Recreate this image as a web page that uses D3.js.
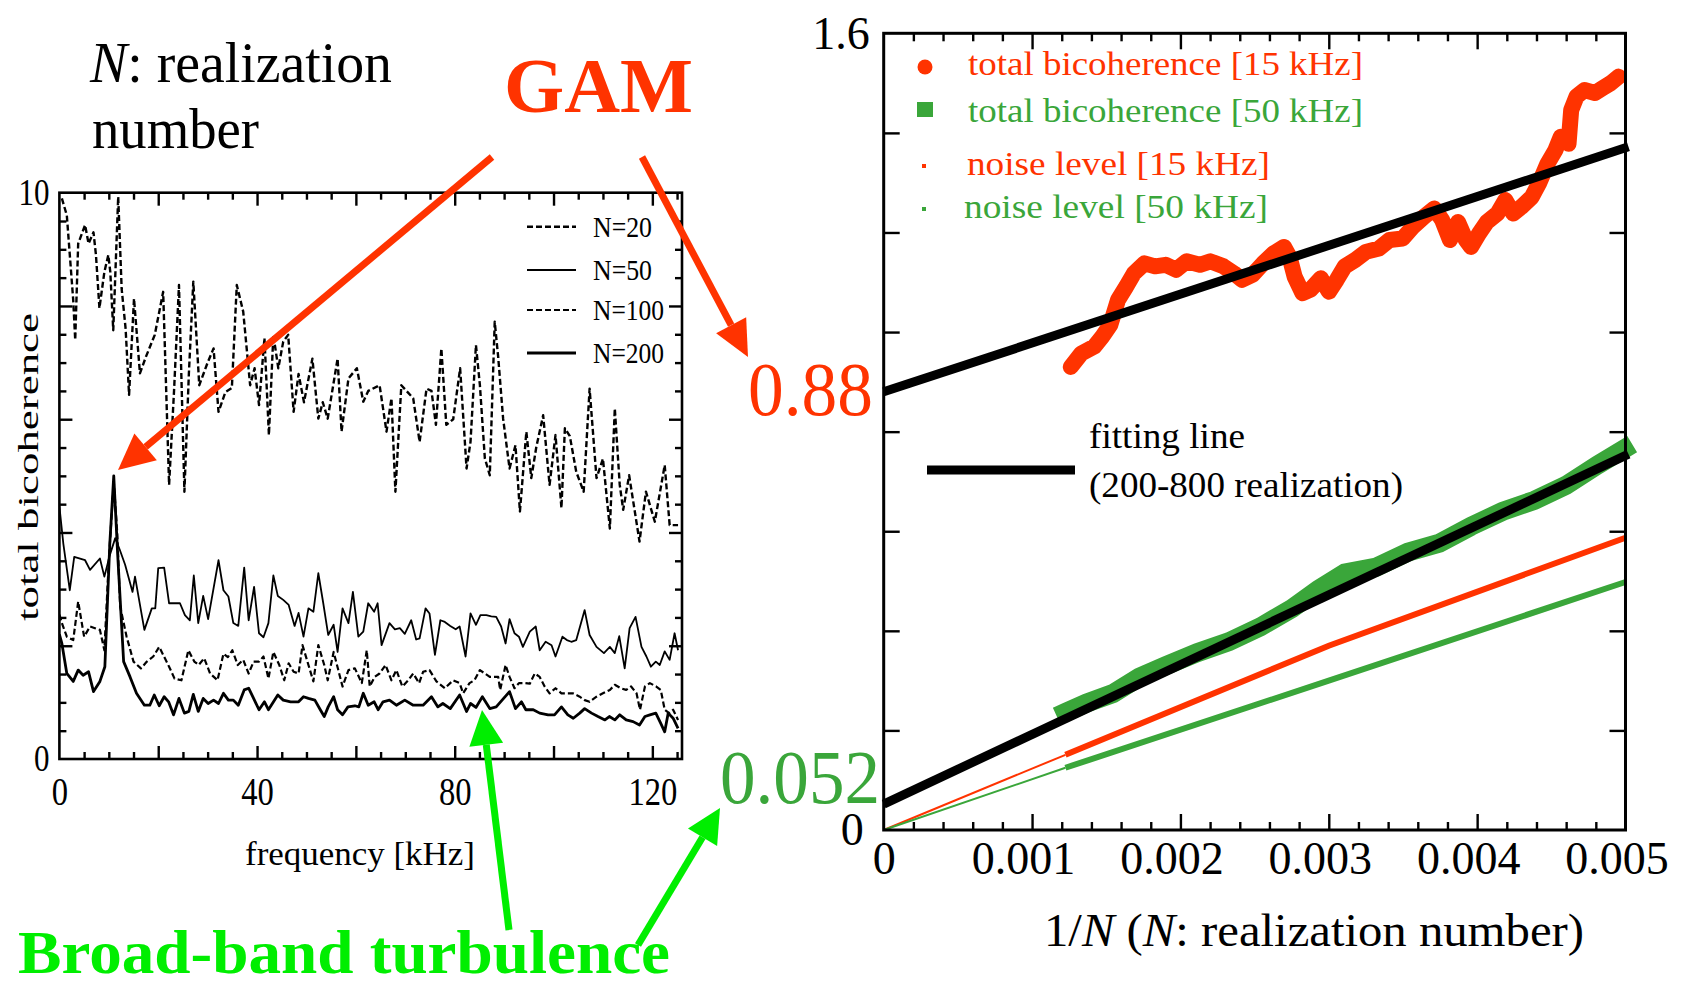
<!DOCTYPE html>
<html>
<head>
<meta charset="utf-8">
<script src="https://cdn.jsdelivr.net/npm/d3@7"></script>
<style>
  body { margin: 0; background: #fff; }
  svg { display: block; font-family: "Liberation Serif", "Times New Roman", serif; }
</style>
</head>
<body>
<div id="chart"></div>
<script>
// ********** BICOHERENCE FIGURE **********

// Left panel: total bicoherence vs frequency [kHz], one series per realization number N
const n20 = [[0.5,9.9],[1.5,9.6],[2.8,8.1],[3.2,7.4],[3.8,9.1],[5.2,9.43],[5.9,9.1],[6.9,9.3],[7.4,8.9],[8.1,7.96],[9.1,8.6],[9.9,8.9],[10.3,8.6],[10.9,7.57],[11.9,9.93],[12.6,8.3],[13.4,7.6],[14.1,6.43],[15.1,8.13],[16.3,6.81],[17.5,7.1],[19.3,7.49],[21,8.25],[22.2,4.84],[23.2,6.5],[24.2,8.37],[25.3,4.72],[26.2,6.8],[27.1,8.43],[28.3,6.6],[30,7.0],[31.2,7.25],[32.2,6.13],[33.6,6.48],[34.9,6.55],[35.9,8.37],[37.2,7.9],[38.6,6.6],[39.5,6.9],[40.4,6.25],[41.5,7.43],[42.4,5.72],[43.3,7.49],[44.3,6.9],[45.3,7.37],[46.3,7.49],[47.4,6.13],[48.4,6.8],[49.5,6.3],[51.2,7.07],[52.4,6.01],[53.3,6.3],[54.3,6.01],[56.3,7.07],[57.1,5.78],[58.5,6.72],[60.2,6.9],[61.5,6.31],[62.5,6.5],[64.8,6.6],[66.2,5.78],[67.2,6.37],[68,4.72],[69.2,6.6],[71.6,6.37],[72.9,5.6],[74.3,6.54],[75.3,6.5],[76.2,5.9],[77.3,7.25],[78.3,5.9],[79.7,6.0],[81.1,6.9],[82.4,5.13],[83.2,5.6],[84.3,7.31],[85.1,6.6],[86.1,5.31],[87.1,5.01],[88.1,7.72],[88.8,7.1],[89.8,6.01],[91.1,5.13],[92.3,5.54],[93.2,4.37],[94.5,5.78],[95.5,4.96],[96.5,5.5],[97.9,6.07],[99.2,4.84],[100.4,5.72],[101.6,4.43],[102.3,5.84],[103.3,5.7],[104.6,5.07],[106.1,4.72],[107.3,6.54],[108.7,4.96],[110,5.3],[111.4,4.07],[112.4,6.19],[113.4,4.84],[114.1,4.4],[115.3,5.01],[117.4,3.84],[118.7,4.72],[120.5,4.19],[122.5,5.19],[123.5,4.13],[125.2,4.13]];

const n50 = [[0,4.46],[0.8,3.8],[2.1,2.98],[3,3.57],[5.2,3.51],[6.2,3.34],[8.2,3.54],[9.1,3.22],[10.2,3.6],[11.3,3.9],[12.2,3.7],[13.3,3.43],[14.8,2.95],[15.3,3.22],[17.2,2.28],[18.7,2.66],[19.4,2.66],[20,3.37],[21.2,3.38],[22.2,2.75],[24.4,2.75],[25.4,2.54],[26.4,2.45],[27.2,3.24],[28.1,2.4],[29.1,2.88],[30.1,2.47],[32.2,3.51],[33.2,2.98],[34.2,2.87],[35.2,2.4],[36.2,2.35],[37.4,3.38],[38.3,2.45],[39.4,3.04],[40.4,2.22],[41.3,2.15],[42.3,2.4],[43.3,3.24],[44.2,2.88],[45.3,2.81],[46.4,2.72],[47.6,2.35],[48.4,2.58],[49.4,2.16],[50.4,2.66],[51.4,2.6],[52.4,3.28],[53.4,2.75],[54.4,2.19],[55.5,2.37],[56.3,1.89],[57.3,2.66],[58.5,2.4],[59.4,2.95],[60.5,2.16],[61.5,2.25],[62.5,2.75],[63.7,2.6],[64.4,2.75],[65.2,2.01],[66.8,2.4],[67.9,2.29],[68.9,2.31],[69.9,2.21],[71.2,2.45],[72.2,2.11],[72.9,2.13],[74.1,2.66],[74.9,2.57],[76,1.84],[77.1,2.45],[78,2.42],[79.1,2.35],[80.2,2.29],[81,2.34],[82.2,1.81],[83.2,2.57],[84.3,2.37],[85.2,2.54],[86.4,2.54],[87.4,2.52],[88.4,2.51],[89.4,2.34],[90.3,2.04],[91.1,2.47],[92.1,2.22],[93,2.16],[93.8,1.98],[95.2,2.25],[96.4,2.34],[97.2,1.92],[98.4,2.07],[99.6,2.01],[100.4,1.81],[101.8,2.16],[102.7,2.1],[103.6,2.07],[104.6,2.1],[106.3,2.63],[107.3,2.19],[108.7,1.98],[110.2,1.87],[111.4,1.98],[112.4,1.87],[113.3,2.17],[114.4,1.6],[115.4,2.31],[116.6,2.51],[117.8,1.98],[118.8,1.81],[119.7,1.63],[120.7,1.72],[121.5,1.66],[122.5,1.9],[123.5,1.75],[124.5,2.22],[125.2,1.92]];

const n100 = [[0,2.55],[0.5,2.4],[1.5,2.16],[2.8,2.1],[3.8,2.78],[5,2.16],[6.2,2.34],[7.2,2.31],[8.2,2.28],[9.1,1.92],[10,3.5],[11,4.9],[11.7,4.0],[12.3,2.69],[13.6,2.16],[15,1.72],[16.5,1.6],[17.7,1.72],[19,1.81],[20.2,1.98],[21,1.84],[22.2,1.63],[23.3,1.42],[24.7,1.39],[26.1,1.92],[27.3,1.72],[28.2,1.66],[29.3,1.78],[30.5,1.51],[32,1.39],[33.2,1.86],[34.1,1.8],[35,1.92],[36.1,1.66],[37.2,1.75],[38.3,1.51],[39.3,1.72],[40.4,1.72],[41.3,1.81],[42.3,1.42],[43.3,1.89],[44.5,1.66],[45.5,1.39],[46.4,1.69],[47.4,1.54],[48.4,1.51],[49.2,2.01],[50.4,1.66],[51.4,1.37],[52.4,2.01],[53.6,1.66],[54.3,1.39],[55.5,1.89],[57.3,1.28],[58.5,1.57],[59.8,1.6],[61.2,1.34],[62.2,1.92],[62.8,1.28],[63.8,1.45],[64.8,1.51],[66,1.66],[67.2,1.39],[68.2,1.57],[69.4,1.28],[70.6,1.39],[71.6,1.51],[72.8,1.34],[73.6,1.54],[74.9,1.57],[76.3,1.37],[78,1.25],[79.7,1.39],[81,1.34],[81.7,1.16],[83,1.34],[84,1.39],[85.1,1.57],[86.1,1.51],[87.1,1.45],[88.8,1.45],[89.2,1.22],[90.3,1.66],[91.1,1.45],[92.1,1.25],[93,1.34],[94.2,1.34],[95.2,1.33],[96.2,1.51],[97.2,1.45],[98.2,1.28],[99.2,1.16],[100.4,1.25],[101.6,1.16],[102.7,1.16],[103.9,1.16],[105.3,1.1],[106.3,1.04],[107.3,1.01],[108.7,1.1],[110,1.16],[111.4,1.22],[112.4,1.31],[113.6,1.25],[114.7,1.22],[115.7,1.28],[116.8,1.16],[117.5,0.87],[118.5,1.28],[119.5,1.34],[120.8,1.28],[121.7,1.22],[122.5,0.87],[123.4,0.81],[124.2,0.87],[125.2,0.69]];

const n200 = [[0,2.2],[0.5,2.04],[1.5,1.51],[2.8,1.37],[3.8,1.57],[4.8,1.48],[5.9,1.54],[6.9,1.19],[8.2,1.37],[9.2,1.63],[10.2,3.8],[11,5.0],[11.8,3.6],[13,1.72],[14.3,1.45],[15.6,1.16],[17.2,0.95],[18.3,0.95],[19.2,1.13],[20.2,0.94],[21.2,1.1],[22.1,1.01],[23.1,0.78],[24.2,1.07],[25.3,0.81],[26.2,0.84],[27.1,1.14],[28.1,0.84],[29.1,1.07],[30.1,0.98],[31.2,1.04],[32.2,0.98],[33.2,1.16],[34.2,1.04],[35.2,1.04],[36.2,0.95],[37.4,1.22],[38.3,1.25],[39.3,1.07],[40.4,0.87],[41.5,1.01],[42.3,0.87],[44.2,1.13],[45.3,1.04],[46.8,1.01],[48.4,1.01],[49.4,1.1],[50.4,1.07],[51.7,1.04],[52.8,0.87],[53.6,0.75],[54.4,0.92],[55.5,1.1],[56.3,0.87],[57.3,0.78],[58.4,0.92],[59.8,0.94],[60.6,0.92],[61.5,1.16],[62.5,0.95],[63.7,1.01],[64.5,0.87],[65.5,1.01],[66.8,1.04],[68.2,0.95],[69.9,1.04],[71.6,0.95],[73.6,0.95],[75.3,1.1],[76.6,0.92],[77.6,0.98],[79.1,0.89],[81,1.13],[82.4,0.84],[83.2,0.98],[84.3,0.91],[85.6,1.1],[87.1,0.89],[88.4,0.92],[89.9,1.07],[91.1,1.19],[92.3,0.89],[93.5,1.01],[94.4,0.87],[95.9,0.87],[97.2,0.81],[98.9,0.78],[100.2,0.78],[101.6,0.92],[102.9,0.78],[104,0.72],[105.3,0.81],[106.3,0.89],[107.7,0.81],[109,0.75],[110.4,0.69],[111.3,0.75],[112.4,0.69],[113.4,0.78],[114.7,0.69],[116.1,0.66],[117.4,0.6],[118.5,0.75],[119.5,0.78],[120.7,0.81],[121.7,0.63],[122.5,0.48],[123.2,0.81],[124.2,0.72],[125.2,0.54]];

const leftSeries = [
	{ name: 'N=20',  data: n20,  width: 2.4, dash: '6,3', labelLen: 59 },
	{ name: 'N=50',  data: n50,  width: 1.8, dash: null,  labelLen: 59 },
	{ name: 'N=100', data: n100, width: 2.2, dash: '6,3', labelLen: 71 },
	{ name: 'N=200', data: n200, width: 2.8, dash: null,  labelLen: 71 }
];
const leftXLabels = [0, 40, 80, 120];
const leftYLabels = [0, 10];

// Right panel: total bicoherence vs 1/N, x values in units of 1e-3
const total15 = [[1.261,0.930],[1.332,0.957],[1.420,0.971],[1.474,0.991],[1.527,1.014],[1.580,1.065],[1.634,1.091],[1.687,1.118],[1.758,1.138],[1.829,1.132],[1.900,1.135],[1.971,1.125],[2.042,1.142],[2.131,1.135],[2.202,1.142],[2.290,1.132],[2.361,1.118],[2.415,1.105],[2.486,1.115],[2.557,1.138],[2.628,1.158],[2.699,1.171],[2.735,1.151],[2.770,1.111],[2.823,1.078],[2.876,1.085],[2.947,1.108],[3.001,1.081],[3.054,1.105],[3.108,1.132],[3.179,1.145],[3.250,1.161],[3.338,1.168],[3.409,1.185],[3.498,1.188],[3.569,1.212],[3.640,1.231],[3.711,1.248],[3.764,1.225],[3.817,1.185],[3.871,1.221],[3.924,1.185],[3.959,1.171],[4.013,1.198],[4.066,1.221],[4.137,1.238],[4.190,1.265],[4.243,1.238],[4.297,1.251],[4.368,1.271],[4.421,1.301],[4.474,1.338],[4.527,1.365],[4.563,1.392],[4.616,1.378],[4.634,1.446],[4.670,1.473],[4.723,1.486],[4.794,1.480],[4.847,1.490],[4.901,1.500],[4.954,1.513]];

const total50 = [[1.225,0.236],[1.367,0.255],[1.545,0.274],[1.723,0.307],[1.900,0.330],[2.113,0.356],[2.326,0.378],[2.539,0.408],[2.752,0.445],[2.930,0.483],[3.108,0.516],[3.320,0.528],[3.533,0.558],[3.746,0.576],[3.959,0.610],[4.172,0.640],[4.385,0.662],[4.598,0.692],[4.811,0.733],[4.990,0.765]];

const noise15 = [[1.225,0.151],[3.0,0.37],[5.0,0.587]];
const noise50 = [[1.225,0.125],[3.0,0.30],[5.0,0.498]];

// fitting lines (200-800 realization): intercept + slope * (1/N)
const fit15 = { intercept: 0.88,  slope: 98 };
const fit50 = { intercept: 0.052, slope: 140 };

const rightXLabels = [0, 0.001, 0.002, 0.003, 0.004, 0.005];
const rightYLabels = [0, 1.6];

const RED = '#ff3300',
	  GREEN = '#3aa63a',
	  LIME = '#00ee00';

const width = 1686, height = 985;

const svg = d3.select('#chart')
	.append('svg')
	.attr('width', width)
	.attr('height', height);

// Scales
const xL = d3.scaleLinear().domain([0, 126]).range([59.4, 682]);
const yL = d3.scaleLinear().domain([0, 10]).range([759, 192.7]);
const xR = d3.scaleLinear().domain([0, 0.005]).range([883.7, 1625.5]);
const yR = d3.scaleLinear().domain([0, 1.6]).range([830, 33.3]);

// Ticks pointing inwards on all four sides, no labels
const drawTicks = (xs, ys, xMajor, xMinor, yMajor, yMinor, majLen, minLen) => {
	const [x0, x1] = xs.range(), [y0, y1] = ys.range();
	const g = svg.append('g').attr('class', 'ticks');
	const sets = [
		[d3.axisBottom(xs), `translate(0,${y0})`, xMajor, xMinor],
		[d3.axisTop(xs), `translate(0,${y1})`, xMajor, xMinor],
		[d3.axisLeft(ys), `translate(${x0},0)`, yMajor, yMinor],
		[d3.axisRight(ys), `translate(${x1},0)`, yMajor, yMinor]
	];
	sets.forEach(([axis, tr, maj, min]) => {
		[[min, minLen], [maj, majLen]].forEach(([vals, len]) => {
			if (!vals.length) return;
			const a = g.append('g').attr('transform', tr)
				.call(axis.tickValues(vals).tickSize(-len).tickFormat(''));
			a.select('.domain').remove();
			a.selectAll('line').attr('stroke', '#000').attr('stroke-width', 2.4);
		});
	});
};

const styleLabels = (a, size) => {
	a.select('.domain').remove();
	a.attr('font-family', null).attr('font-size', size);
	a.selectAll('text').attr('fill', '#000');
};

// ---------- LEFT PANEL ----------
const renderLeft = () => {
	drawTicks(xL, yL,
		d3.range(20, 121, 20), d3.range(5, 126, 5).filter(d => d % 20),
		d3.range(2, 10, 2), d3.range(0.5, 10, 0.5).filter(d => d % 2),
		13, 7);

	svg.append('clipPath').attr('id', 'clipL')
		.append('rect')
		.attr('x', xL(0)).attr('y', yL(10))
		.attr('width', xL(126) - xL(0)).attr('height', yL(0) - yL(10));

	const line = d3.line().x(d => xL(d[0])).y(d => yL(d[1]));

	svg.append('g').attr('clip-path', 'url(#clipL)')
		.selectAll('path.curve')
		.data(leftSeries)
		.enter()
		.append('path')
		.attr('class', 'curve')
		.attr('d', d => line(d.data))
		.attr('fill', 'none')
		.attr('stroke', '#000')
		.attr('stroke-width', d => d.width)
		.attr('stroke-dasharray', d => d.dash)
		.attr('stroke-linejoin', 'round');

	// frame
	svg.append('rect')
		.attr('x', xL(0)).attr('y', yL(10))
		.attr('width', xL(126) - xL(0)).attr('height', yL(0) - yL(10))
		.attr('fill', 'none').attr('stroke', '#000').attr('stroke-width', 2.6);

	// tick labels (the left panel lettering is tall and narrow)
	const xa = svg.append('g').attr('transform', `translate(0,${yL(0)})`)
		.call(d3.axisBottom(xL).tickValues(leftXLabels).tickSize(0).tickPadding(18));
	styleLabels(xa, 40);
	xa.selectAll('text')
		.attr('textLength', d => String(d).length * 16.3)
		.attr('lengthAdjust', 'spacingAndGlyphs');
	const ya = svg.append('g').attr('transform', `translate(${xL(0)},0)`)
		.call(d3.axisLeft(yL).tickValues(leftYLabels).tickSize(0).tickPadding(10));
	styleLabels(ya, 37);
	ya.selectAll('text')
		.attr('textLength', d => String(d).length * 15.5)
		.attr('lengthAdjust', 'spacingAndGlyphs');

	svg.append('text')
		.attr('x', 245).attr('y', 865)
		.attr('font-size', 33)
		.attr('textLength', 230).attr('lengthAdjust', 'spacingAndGlyphs')
		.text('frequency [kHz]');

	svg.append('text')
		.attr('transform', 'translate(38,621) rotate(-90)')
		.attr('font-size', 30)
		.attr('textLength', 308).attr('lengthAdjust', 'spacingAndGlyphs')
		.text('total bicoherence');

	// legend
	const leg = svg.append('g').attr('class', 'legend');
	const rows = leg.selectAll('g')
		.data(leftSeries)
		.enter()
		.append('g')
		.attr('transform', (d, i) => `translate(0,${[236.7, 280, 320, 363][i]})`);
	rows.append('line')
		.attr('x1', 527).attr('x2', 576).attr('y1', -10).attr('y2', -10)
		.attr('stroke', '#000')
		.attr('stroke-width', d => d.width)
		.attr('stroke-dasharray', d => d.dash);
	rows.append('text')
		.attr('x', 593)
		.attr('font-size', 30)
		.attr('textLength', d => d.labelLen).attr('lengthAdjust', 'spacingAndGlyphs')
		.text(d => d.name);
};

// ---------- RIGHT PANEL ----------
const renderRight = () => {
	drawTicks(xR, yR,
		d3.range(1, 5).map(d => d * 0.001), d3.range(1, 25).filter(d => d % 5).map(d => d * 0.0002),
		d3.range(1, 8).map(d => d * 0.2), [],
		16, 8);

	const line = d3.line().x(d => xR(d[0] / 1000)).y(d => yR(d[1]));

	// noise levels: thin line from the origin then the dense band of points
	[[noise15, RED], [noise50, GREEN]].forEach(([data, col]) => {
		svg.append('path')
			.attr('d', line([[0, 0], data[0]]))
			.attr('stroke', col).attr('stroke-width', 2).attr('fill', 'none');
		svg.append('path')
			.attr('d', line(data))
			.attr('stroke', col).attr('stroke-width', 6).attr('fill', 'none');
	});

	// total bicoherence points (dense, drawn as a thick band)
	svg.append('path')
		.attr('d', line(total50))
		.attr('fill', 'none').attr('stroke', GREEN)
		.attr('stroke-width', 19).attr('stroke-linecap', 'square');
	svg.append('path')
		.attr('d', line(total15))
		.attr('fill', 'none').attr('stroke', RED)
		.attr('stroke-width', 16).attr('stroke-linecap', 'round').attr('stroke-linejoin', 'round');

	// fitting lines
	[fit15, fit50].forEach(f => {
		svg.append('line')
			.attr('x1', xR(0)).attr('y1', yR(f.intercept))
			.attr('x2', xR(0.00502)).attr('y2', yR(f.intercept + f.slope * 0.00502))
			.attr('stroke', '#000').attr('stroke-width', 9);
	});

	// frame
	svg.append('rect')
		.attr('x', xR(0)).attr('y', yR(1.6))
		.attr('width', xR(0.005) - xR(0)).attr('height', yR(0) - yR(1.6))
		.attr('fill', 'none').attr('stroke', '#000').attr('stroke-width', 3);

	// tick labels
	const xa = svg.append('g').attr('transform', `translate(0,${yR(0)})`)
		.call(d3.axisBottom(xR).tickValues(rightXLabels).tickSize(0).tickPadding(11)
			.tickFormat(d => d === 0 ? '0' : d3.format('.3f')(d)));
	styleLabels(xa, 46);
	xa.selectAll('text').attr('dx', d => d === 0 ? 0 : -9);

	const ya = svg.append('g').attr('transform', `translate(${xR(0)},0)`)
		.call(d3.axisLeft(yR).tickValues(rightYLabels).tickSize(0).tickPadding(14)
			.tickFormat(d => d === 0 ? '0' : '1.6'));
	styleLabels(ya, 46);
	ya.selectAll('text').attr('dx', d => d === 0 ? -6 : 0);

	const title = svg.append('text')
		.attr('x', 1044).attr('y', 946)
		.attr('font-size', 46)
		.attr('textLength', 540).attr('lengthAdjust', 'spacingAndGlyphs');
	title.append('tspan').text('1/');
	title.append('tspan').attr('font-style', 'italic').text('N');
	title.append('tspan').text(' (');
	title.append('tspan').attr('font-style', 'italic').text('N');
	title.append('tspan').text(': realization number)');

	// legend
	const legend = [
		{ label: 'total bicoherence [15 kHz]', col: RED,   shape: 'circle', y: 75,  x: 968, len: 395 },
		{ label: 'total bicoherence [50 kHz]', col: GREEN, shape: 'square', y: 122, x: 968, len: 395 },
		{ label: 'noise level [15 kHz]',       col: RED,   shape: 'dot',    y: 175, x: 967, len: 303 },
		{ label: 'noise level [50 kHz]',       col: GREEN, shape: 'dot',    y: 218, x: 964, len: 304 }
	];
	const lg = svg.append('g').attr('class', 'legendGroup');
	legend.forEach(d => {
		if (d.shape === 'circle')
			lg.append('circle').attr('cx', 925).attr('cy', d.y - 8).attr('r', 7.5).attr('fill', d.col);
		else if (d.shape === 'square')
			lg.append('rect').attr('x', 917).attr('y', d.y - 20).attr('width', 16).attr('height', 15).attr('fill', d.col);
		else
			lg.append('rect').attr('x', 922).attr('y', d.y - 11).attr('width', 4).attr('height', 4).attr('fill', d.col);
		lg.append('text')
			.attr('x', d.x).attr('y', d.y)
			.attr('font-size', 34)
			.attr('fill', d.col)
			.attr('textLength', d.len).attr('lengthAdjust', 'spacingAndGlyphs')
			.text(d.label);
	});

	lg.append('line')
		.attr('x1', 927).attr('x2', 1075).attr('y1', 470).attr('y2', 470)
		.attr('stroke', '#000').attr('stroke-width', 9);
	lg.append('text').attr('x', 1089).attr('y', 448).attr('font-size', 36)
		.attr('textLength', 156).attr('lengthAdjust', 'spacingAndGlyphs')
		.text('fitting line');
	lg.append('text').attr('x', 1089).attr('y', 497).attr('font-size', 36)
		.attr('textLength', 314).attr('lengthAdjust', 'spacingAndGlyphs')
		.text('(200-800 realization)');
};

// ---------- ANNOTATIONS ----------
const arrow = (from, to, col, w, hl, hw) => {
	const a = Math.atan2(to[1] - from[1], to[0] - from[0]);
	const bx = to[0] - hl * Math.cos(a), by = to[1] - hl * Math.sin(a);
	const px = -Math.sin(a) * hw / 2, py = Math.cos(a) * hw / 2;
	svg.append('line')
		.attr('x1', from[0]).attr('y1', from[1]).attr('x2', bx).attr('y2', by)
		.attr('stroke', col).attr('stroke-width', w);
	svg.append('path')
		.attr('d', `M${to[0]},${to[1]}L${bx + px},${by + py}L${bx - px},${by - py}Z`)
		.attr('fill', col);
};

const renderNotes = () => {
	const t = svg.append('text')
		.attr('x', 90).attr('y', 82).attr('font-size', 56)
		.attr('textLength', 302).attr('lengthAdjust', 'spacingAndGlyphs');
	t.append('tspan').attr('font-style', 'italic').text('N');
	t.append('tspan').text(': realization');
	svg.append('text')
		.attr('x', 92).attr('y', 148).attr('font-size', 56)
		.attr('textLength', 167).attr('lengthAdjust', 'spacingAndGlyphs')
		.text('number');

	svg.append('text')
		.attr('x', 504).attr('y', 112).attr('font-size', 78).attr('font-weight', 'bold')
		.attr('fill', RED)
		.attr('textLength', 189).attr('lengthAdjust', 'spacingAndGlyphs')
		.text('GAM');

	svg.append('text')
		.attr('x', 748).attr('y', 415).attr('font-size', 76)
		.attr('fill', RED)
		.attr('textLength', 125).attr('lengthAdjust', 'spacingAndGlyphs')
		.text(fit15.intercept.toFixed(2));

	svg.append('text')
		.attr('x', 720).attr('y', 803).attr('font-size', 76)
		.attr('fill', GREEN)
		.attr('textLength', 160).attr('lengthAdjust', 'spacingAndGlyphs')
		.text(String(fit50.intercept));

	svg.append('text')
		.attr('x', 18).attr('y', 973).attr('font-size', 62).attr('font-weight', 'bold')
		.attr('fill', LIME)
		.attr('textLength', 652).attr('lengthAdjust', 'spacingAndGlyphs')
		.text('Broad-band turbulence');

	arrow([492, 157], [118, 470], RED, 7, 36, 35);
	arrow([642, 157], [748, 357], RED, 7, 36, 34);
	arrow([509, 930], [482, 710], LIME, 7, 35, 34);
	arrow([638, 945], [720, 808], LIME, 7, 34, 34);
};

renderLeft();
renderRight();
renderNotes();
</script>
</body>
</html>
